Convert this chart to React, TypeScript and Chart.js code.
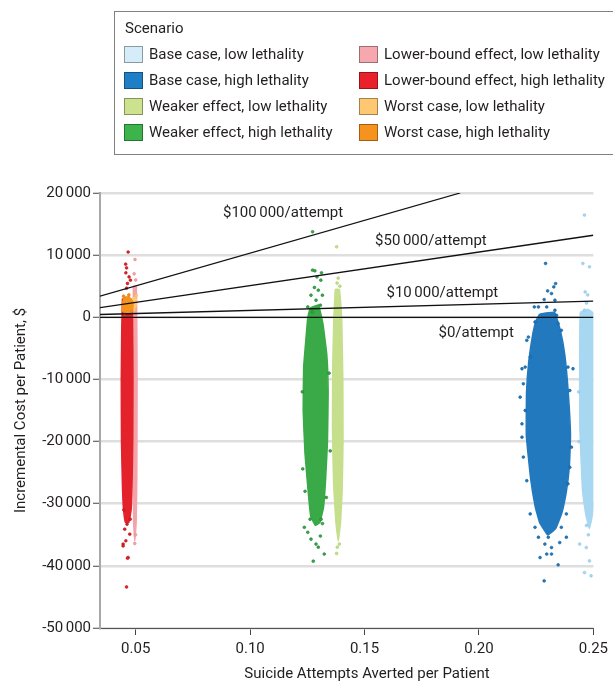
import React, { useEffect, useRef } from 'react';
import { Chart, registerables } from 'chart.js';
Chart.register(...registerables);

type P = [number, number];

// ---------- Scenario names / colours ----------
const scenarioNames = [
  'Base case, low lethality',
  'Base case, high lethality',
  'Weaker effect, low lethality',
  'Weaker effect, high lethality',
  'Lower-bound effect, low lethality',
  'Lower-bound effect, high lethality',
  'Worst case, low lethality',
  'Worst case, high lethality',
];
const cloudColors = ['#a8d7f1', '#2379bd', '#c6df8c', '#3aa947', '#f4a3aa', '#e3222b', '#fdc877', '#f6931f'];
const edgeColors = ['#8cc6e6', '#135f9c', '#a9c96a', '#1e7d31', '#e98791', '#b3141c', '#f2b458', '#d9780e'];
const swatchColors = ['#d5ecf9', '#1f7fc6', '#cde28f', '#3cb34b', '#f5a9af', '#e8212a', '#fec872', '#f6921e'];

// ---------- Simulation clouds (dense core outline + sparse outer points) ----------
const baseLowCore: P[] = [[0.2443, 800], [0.2475, 1300], [0.2505, 500], [0.2510, -10000], [0.2510, -28000], [0.2497, -31500], [0.2482, -34000], [0.2466, -31500], [0.2452, -27500], [0.2441, -18000], [0.2440, -8000], [0.2441, -1000]];
const baseLowPoints: P[] = [[0.2461, 16450], [0.2454, 8660], [0.2483, 8120], [0.2464, 4080], [0.2475, 3600], [0.2470, 2300], [0.2461, 1130], [0.2478, -35000], [0.2470, -33500], [0.2440, -36500], [0.2469, -37050], [0.2483, -39200], [0.2461, -41080], [0.2490, -41600], [0.2437, -20000], [0.2436, -12000]];

const baseHighCore: P[] = [[0.2265, 500], [0.2330, 800], [0.2355, -2000], [0.2375, -6000], [0.2390, -12000], [0.2400, -19000], [0.2395, -24000], [0.2382, -28000], [0.2362, -31500], [0.2335, -34000], [0.2300, -35000], [0.2265, -33000], [0.2246, -30500], [0.2226, -26000], [0.2207, -19000], [0.2208, -12000], [0.2218, -7000], [0.2236, -2500], [0.2250, -500]];
const baseHighPoints: P[] = [[0.2291, 8660], [0.2335, 5430], [0.2327, 4890], [0.2300, 4240], [0.2317, 3820], [0.2285, 2850], [0.2332, 2740], [0.2260, 1660], [0.2242, 1660], [0.2296, 1660], [0.2332, 1130], [0.2339, 320], [0.2245, -760], [0.2346, -1020], [0.2216, -3180], [0.2209, -3710], [0.2360, -2100], [0.2224, -6400], [0.2202, -8020], [0.2389, -8020], [0.2411, -8280], [0.2188, -8280], [0.2194, -10700], [0.2180, -12850], [0.2397, -11780], [0.2202, -15000], [0.2188, -17150], [0.2188, -19300], [0.2404, -20900], [0.2194, -22500], [0.2397, -24150], [0.2209, -26300], [0.2389, -26800], [0.2224, -31650], [0.2382, -31650], [0.2245, -33800], [0.2360, -33800], [0.2260, -35400], [0.2303, -35400], [0.2382, -35400], [0.2288, -36500], [0.2353, -36250], [0.2317, -37050], [0.2296, -38100], [0.2267, -38660], [0.2317, -38100], [0.2346, -39840], [0.2285, -42420]];

const weakerLowCore: P[] = [[0.1372, 4500], [0.1390, 4500], [0.1400, 0], [0.1405, -10000], [0.1406, -20000], [0.1402, -28000], [0.1395, -33000], [0.1385, -36000], [0.1375, -33000], [0.1365, -27000], [0.1360, -18000], [0.1361, -8000], [0.1366, 0]];
const weakerLowPoints: P[] = [[0.1378, 11340], [0.1385, 6300], [0.1380, 5500], [0.1392, 5000], [0.1381, -37000], [0.1378, -38000], [0.1390, -36500]];

const weakerHighCore: P[] = [[0.1262, 1500], [0.1298, 2000], [0.1318, -1000], [0.1335, -6000], [0.1341, -12000], [0.1338, -20000], [0.1330, -26000], [0.1321, -30500], [0.1305, -33000], [0.1285, -33500], [0.1265, -32000], [0.1256, -29000], [0.1240, -22000], [0.1232, -15000], [0.1234, -8000], [0.1245, -3000], [0.1252, 0]];
const weakerHighPoints: P[] = [[0.1273, 13760], [0.1273, 7580], [0.1283, 7470], [0.1312, 7150], [0.1292, 6500], [0.1309, 5970], [0.1281, 4790], [0.1298, 4355], [0.1266, 3550], [0.1316, 3550], [0.1288, 2740], [0.1307, 1935], [0.1252, 1660], [0.1273, 855], [0.1252, -34600], [0.1288, -36500], [0.1324, -38100], [0.1276, -39250], [0.1307, -35200], [0.1266, -35700], [0.1298, -37000], [0.1237, -33800], [0.1316, -33200], [0.1230, -24400], [0.1350, -21500], [0.1228, -12000], [0.1345, -9000], [0.1240, -28000], [0.1333, -29000], [0.1262, -32500], [0.1310, -32500]];

const lowerLowCore: P[] = [[0.0490, 5000], [0.0503, 5000], [0.0506, -10000], [0.0505, -25000], [0.0502, -33000], [0.0496, -36000], [0.0491, -33000], [0.0489, -20000], [0.0489, -5000]];
const lowerLowPoints: P[] = [[0.0497, 9300], [0.0493, 7000], [0.0500, 6000], [0.0496, -36400], [0.0499, -35000]];

const lowerHighCore: P[] = [[0.0442, 3000], [0.0478, 3000], [0.0486, 0], [0.0488, -10000], [0.0487, -20000], [0.0484, -27000], [0.0480, -31000], [0.0470, -33000], [0.0455, -33000], [0.0446, -30500], [0.0442, -27000], [0.0438, -20000], [0.0437, -10000], [0.0439, -2000]];
const lowerHighPoints: P[] = [[0.0467, 10500], [0.0456, 8550], [0.0460, 7950], [0.0457, 7150], [0.0471, 6500], [0.0477, 5970], [0.0464, 5440], [0.0460, 4680], [0.0445, -36500], [0.0467, -38660], [0.0457, -35970], [0.0474, -34900], [0.0452, -34100], [0.0462, -33300], [0.0460, -43400], [0.0445, -36800], [0.0464, -38760], [0.0448, -31000], [0.0476, -32500]];

const worstLowCore: P[] = [[0.0482, 2000], [0.0488, 3100], [0.0500, 3200], [0.0505, 2300], [0.0498, 1500], [0.0486, 1500]];
const worstLowPoints: P[] = [[0.0502, 3500], [0.0494, 1200]];

const worstHighCore: P[] = [[0.0440, 2000], [0.0450, 3200], [0.0470, 3300], [0.0488, 2500], [0.0485, 1000], [0.0460, 700], [0.0443, 1000]];
const worstHighPoints: P[] = [[0.0447, 3400], [0.0470, 3600], [0.0482, 900], [0.0452, 600]];

// ---------- Cost-effectiveness threshold lines ----------
const thresholdLabels = ['$100\u2006000/attempt', '$50\u2006000/attempt', '$10\u2006000/attempt', '$0/attempt'];
const thresholdStart: P[] = [[0.0344, 3400], [0.0344, 1550], [0.0344, 450], [0.0344, 0]];
const thresholdEnd: P[] = [[0.1918, 20000], [0.25, 13200], [0.25, 2600], [0.25, 0]];
const thresholdLabelAt: P[] = [[0.1144, 16775], [0.179, 12260], [0.184, 3820], [0.1988, -2530]];

// ---------- Axes ----------
const xMin = 0.0344;
const xMax = 0.25;
const xTickValues = [0.05, 0.1, 0.15, 0.2, 0.25];
const yMin = -50000;
const yMax = 20000;
const yStep = 10000;
const xTitle = 'Suicide Attempts Averted per Patient';
const yTitle = 'Incremental Cost per Patient, $';
const legendTitle = 'Scenario';

const FONT = 'Roboto, "Noto Sans", sans-serif';
const TEXT = '#231f20';

const fmt = (v: number) => {
  const a = Math.abs(v);
  const s = a >= 1000 ? Math.floor(a / 1000) + '\u2006' + String(a % 1000).padStart(3, '0') : String(a);
  return (v < 0 ? '-' : '') + s;
};

const toXY = (arr: P[]) => arr.map(([x, y]) => ({ x, y }));

const cores = [baseLowCore, baseHighCore, weakerLowCore, weakerHighCore, lowerLowCore, lowerHighCore, worstLowCore, worstHighCore];
const outers = [baseLowPoints, baseHighPoints, weakerLowPoints, weakerHighPoints, lowerLowPoints, lowerHighPoints, worstLowPoints, worstHighPoints];

const textPlugin = {
  id: 'extraTexts',
  afterDatasetsDraw(chart: any) {
    const { ctx, scales } = chart;
    const xs = scales.x;
    const ys = scales.y;
    ctx.save();
    ctx.fillStyle = TEXT;
    ctx.font = `15px ${FONT}`;
    ctx.textAlign = 'center';
    ctx.textBaseline = 'middle';
    thresholdLabels.forEach((t, i) => {
      ctx.fillText(t, xs.getPixelForValue(thresholdLabelAt[i][0]), ys.getPixelForValue(thresholdLabelAt[i][1]));
    });
    ctx.fillText(xTitle, 367, 674);
    ctx.restore();
  },
};

export default function App() {
  const ref = useRef<HTMLCanvasElement>(null);

  useEffect(() => {
    document.body.style.margin = '0';
    const canvas = ref.current;
    if (!canvas) return;

    // bottom -> top drawing order
    const layers: any[] = [];
    cores.forEach((core, i) => {
      layers.push({
        type: 'line',
        label: scenarioNames[i] + ' core',
        data: toXY([...core, core[0]]),
        showLine: true,
        fill: 'shape',
        tension: 0.1,
        backgroundColor: cloudColors[i],
        borderColor: cloudColors[i],
        borderWidth: 1.5,
        pointRadius: 0,
        clip: 0,
      });
      layers.push({
        type: 'scatter',
        label: scenarioNames[i],
        data: toXY(outers[i]),
        backgroundColor: cloudColors[i],
        borderColor: edgeColors[i],
        borderWidth: 0.6,
        pointRadius: 1.4,
        clip: 0,
      });
    });
    thresholdLabels.forEach((lab, i) => {
      layers.push({
        type: 'line',
        label: lab,
        data: toXY([thresholdStart[i], thresholdEnd[i]]),
        showLine: true,
        fill: false,
        borderColor: '#111',
        borderWidth: 1.3,
        pointRadius: 0,
        clip: 0,
      });
    });
    const datasets = layers.reverse();

    const chart = new Chart(canvas, {
      type: 'scatter',
      data: { datasets },
      plugins: [textPlugin],
      options: {
        responsive: false,
        animation: false,
        events: [],
        layout: { padding: { top: 193, right: 14, left: 0, bottom: 0 } },
        plugins: { legend: { display: false }, tooltip: { enabled: false } },
        scales: {
          x: {
            type: 'linear',
            min: xMin,
            max: xMax,
            afterFit: (s: any) => { s.height = 56; },
            afterBuildTicks: (s: any) => { s.ticks = xTickValues.map((v) => ({ value: v })); },
            ticks: {
              font: { family: FONT, size: 15 },
              color: TEXT,
              padding: 5,
              maxRotation: 0,
              callback: (v: any) => Number(v).toFixed(2),
            },
            grid: { drawOnChartArea: false, tickLength: 7, tickColor: '#444', tickWidth: 1, color: '#444' },
            border: { color: '#555', width: 1 },
          },
          y: {
            type: 'linear',
            min: yMin,
            max: yMax,
            afterFit: (s: any) => { s.width = 100; },
            ticks: {
              stepSize: yStep,
              font: { family: FONT, size: 15 },
              color: TEXT,
              padding: 2,
              callback: (v: any) => fmt(Number(v)),
            },
            grid: { color: '#dedede', lineWidth: 2.5, tickLength: 7, tickColor: '#444', tickWidth: 1 },
            border: { color: '#a8a8a8', width: 2 },
            title: {
              display: true,
              text: yTitle,
              font: { family: FONT, size: 15 },
              color: TEXT,
              padding: { top: 12, bottom: 0 },
            },
          },
        },
      } as any,
    });
    return () => chart.destroy();
  }, []);

  const legendOrder = [[0, 1, 2, 3], [4, 5, 6, 7]];
  const colX = [124, 359];
  const rowTop = [46, 72, 98, 124];

  return (
    <div style={{ position: 'relative', width: 613, height: 684, overflow: 'hidden', background: '#fff', fontFamily: FONT, color: TEXT }}>
      <canvas ref={ref} width={613} height={684} style={{ position: 'absolute', left: 0, top: 0, width: 613, height: 684 }} />
      <div style={{ position: 'absolute', left: 114, top: 11, width: 530, height: 144, border: '1px solid #808080', boxSizing: 'border-box' }} />
      <div style={{ position: 'absolute', left: 125, top: 19, fontSize: 15, lineHeight: '18px', whiteSpace: 'nowrap' }}>{legendTitle}</div>
      {legendOrder.map((col, ci) =>
        col.map((si, ri) => (
          <React.Fragment key={si}>
            <div
              style={{
                position: 'absolute',
                left: colX[ci],
                top: rowTop[ri],
                width: 19,
                height: 17,
                boxSizing: 'border-box',
                background: swatchColors[si],
                border: '1px solid rgba(0,0,0,0.35)',
              }}
            />
            <div style={{ position: 'absolute', left: colX[ci] + 25, top: rowTop[ri] - 1, fontSize: 15, lineHeight: '18px', whiteSpace: 'nowrap' }}>
              {scenarioNames[si]}
            </div>
          </React.Fragment>
        ))
      )}
    </div>
  );
}
